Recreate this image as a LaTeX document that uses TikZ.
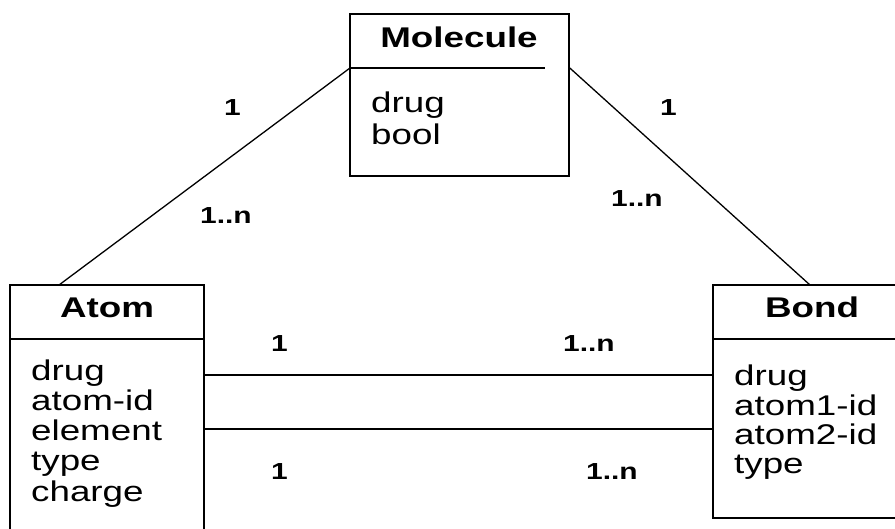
\documentclass[tikz,border=0pt]{standalone}
\usepackage{fontspec}
\setmainfont{Liberation Sans}[FakeStretch=1.29]
\begin{document}
\begin{tikzpicture}[x=1pt,y=-1pt,
  classbox/.style={draw, line width=1.6pt, inner sep=0pt},
  divider/.style={line width=1.4pt},
  head/.style={font=\fontsize{28.5}{31}\selectfont\bfseries, inner sep=0pt, anchor=base},
  attr/.style={font=\fontsize{28.5}{31}\selectfont, inner sep=0pt, anchor=base west},
  mult/.style={font=\fontsize{23.2}{26}\selectfont\bfseries, inner sep=0pt, anchor=base west},
  assoc/.style={line width=1.3pt}]
\useasboundingbox (0,0) rectangle (895,529);
\clip (0,0) rectangle (895,529);

% class boxes
\node[classbox, minimum width=219pt, minimum height=162pt] (mol) at (459.5,95) {};
\node[classbox, minimum width=194pt, minimum height=270pt] (atom) at (107,420) {};
\node[classbox, minimum width=200pt, minimum height=233pt] (bond) at (813,401.5) {};

% header dividers
\coordinate (molhdL) at (350,68);
\coordinate (molhdR) at (545,68);
\coordinate (atomhd) at (0,339);
\coordinate (bondhd) at (0,339);
\draw[divider] (molhdL) -- (molhdR);
\draw[divider] (atom.west |- atomhd) -- (atom.east |- atomhd);
\draw[divider] (bond.west |- bondhd) -- (bond.east |- bondhd);

% headings
\node[head] (molname) at (459,48) {Molecule};
\node[head] (atomname) at (107,318) {Atom};
\node[head] (bondname) at (812,318) {Bond};

% attributes
\node[attr] (m1) at (371,113) {drug};
\node[attr] (m2) at (371,145) {bool};

\node[attr] (a1) at (31,381) {drug};
\node[attr] (a2) at (31,411) {atom-id};
\node[attr] (a3) at (31,441) {element};
\node[attr] (a4) at (31,471) {type};
\node[attr] (a5) at (31,501) {charge};

\node[attr] (b1) at (734,386) {drug};
\node[attr] (b2) at (734,416) {atom1-id};
\node[attr] (b3) at (734,445) {atom2-id};
\node[attr] (b4) at (734,474) {type};

% associations
\coordinate (atomtop) at (59,285);
\coordinate (bondtop) at (810,285);
\coordinate (l1) at (0,375);
\coordinate (l2) at (0,429);
\draw[assoc] (atomtop) -- (molhdL);
\draw[assoc] (mol.east |- molhdL) -- (bondtop);
\draw[assoc] (atom.east |- l1) -- (bond.west |- l1);
\draw[assoc] (atom.east |- l2) -- (bond.west |- l2);

% multiplicities
\node[mult] (ml1) at (224,116) {1};
\node[mult] (ml2) at (200,224) {1..n};
\node[mult] (mr1) at (660,116) {1};
\node[mult] (mr2) at (611,207) {1..n};
\node[mult] (h1a) at (271,352) {1};
\node[mult] (h1b) at (563,352) {1..n};
\node[mult] (h2a) at (271,479) {1};
\node[mult] (h2b) at (586,479) {1..n};
\end{tikzpicture}
\end{document}
